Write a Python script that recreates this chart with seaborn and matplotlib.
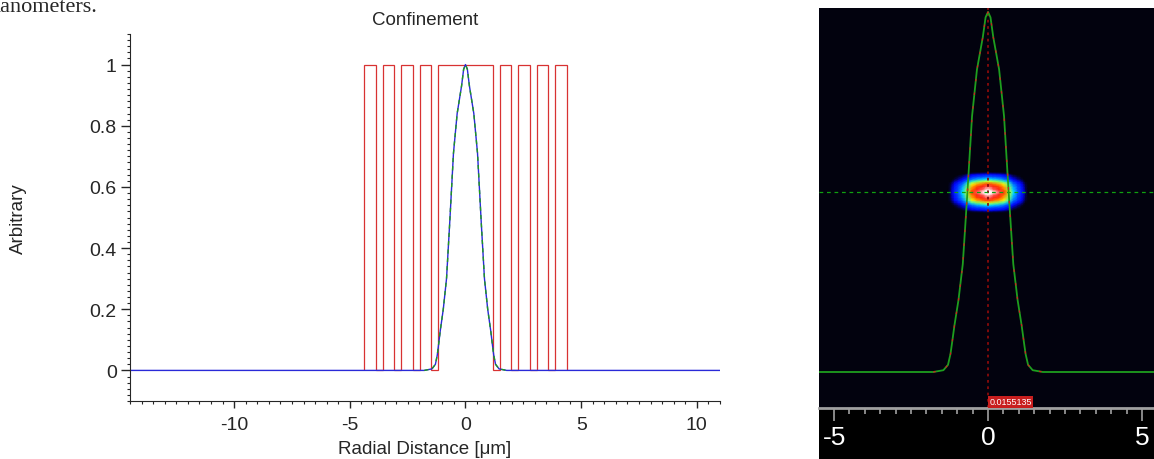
import numpy as np
import matplotlib
matplotlib.use("Agg")
import matplotlib.pyplot as plt
import matplotlib.transforms as mtransforms
from matplotlib.colors import LinearSegmentedColormap
from matplotlib.patches import Rectangle
from matplotlib.ticker import MultipleLocator
import seaborn as sns

# mode profile (right half, mirrored below)
mode_x_half = [0, 0.08, 0.17, 0.36, 0.52, 0.68, 0.82, 0.96, 1.09, 1.17, 1.22, 1.30, 1.45, 1.78, 16]
mode_v_half = [1.0, 0.985, 0.93, 0.84, 0.71, 0.485, 0.30, 0.20, 0.13, 0.08, 0.05, 0.02, 0.005, 0.0, 0.0]

# confinement (index) steps of the grating, in um
grating_edges = [-4.37, -3.87, -3.57, -3.07, -2.77, -2.27, -1.97, -1.47, -1.17,
                 1.17, 1.47, 1.97, 2.27, 2.77, 3.07, 3.57, 3.87, 4.37]
grating_levels = [1, 0, 1, 0, 1, 0, 1, 0, 1, 0, 1, 0, 1, 0, 1, 0, 1]

x_ticks_left = [-10, -5, 0, 5, 10]
y_ticks_left = [0, 0.2, 0.4, 0.6, 0.8, 1]
x_ticks_right = [-5, 0, 5]
probe_label = "0.0155135"

mode_x = np.concatenate([-np.array(mode_x_half[::-1]), mode_x_half[1:]])
mode_v = np.concatenate([mode_v_half[::-1], mode_v_half[1:]])

sns.set_style("ticks")
plt.rcParams['font.family'] = ['Liberation Sans', 'DejaVu Sans']
plt.rcParams['axes.unicode_minus'] = False

fig = plt.figure(figsize=(11.54, 4.6), dpi=100)
W, H = 1154, 460

# cut-off caption text above the figure
fig.text(-11 / W, (H - 12) / H, "nanometers.", family=['Liberation Serif', 'DejaVu Serif'],
         fontsize=16, va='baseline', ha='left')

# ---- left: confinement plot ----
ax = fig.add_axes([130 / W, (H - 402) / H, 590 / W, 367 / H])
red = '#d83232'
ax.stairs(grating_levels, grating_edges, color=red, lw=0.9, baseline=0)
sns.lineplot(x=mode_x, y=mode_v, ax=ax, color='#2a2ad8', lw=1.0, sort=False, estimator=None)
sns.lineplot(x=mode_x[1:-1], y=mode_v[1:-1], ax=ax, color='#1f9a1f', lw=1.0, sort=False,
             estimator=None, dashes=False, linestyle=(0, (3, 3)))
ax.set_xlim(-14.5, 11)
ax.set_ylim(-0.1, 1.1)
ax.set_xticks(x_ticks_left)
ax.set_yticks(y_ticks_left)
ax.set_yticklabels([f"{t:g}" for t in y_ticks_left])
ax.xaxis.set_minor_locator(MultipleLocator(0.5))
ax.yaxis.set_minor_locator(MultipleLocator(0.02))
ax.tick_params(axis='x', which='major', direction='out', length=5, width=1, labelsize=14, pad=6)
ax.tick_params(axis='x', which='minor', direction='out', length=2.5, width=0.8)
ax.tick_params(axis='y', which='major', direction='out', length=6.5, width=1, labelsize=14, pad=3)
ax.tick_params(axis='y', which='minor', direction='out', length=2, width=0.8)
sns.despine(ax=ax)
ax.set_xlabel("Radial Distance [\u03bcm]", fontsize=13.5, labelpad=5)
ax.set_ylabel("Arbitrary", fontsize=13.5, labelpad=45)
ax.set_title("Confinement", fontsize=13.5, pad=7)

# ---- right: mode viewer ----
fig.patches.append(Rectangle((819 / W, 0), 335 / W, (H - 9) / H, transform=fig.transFigure,
                             facecolor='black', edgecolor='none', zorder=-5))
bg = '#02020e'
axr = fig.add_axes([819 / W, (H - 409) / H, 335 / W, 400 / H])
axr.set_facecolor(bg)
axr.set_xlim(-5.49, 5.39)
axr.set_ylim(-0.1, 1.011)

# intensity spot built from the read mode profile
k = 0.044
core = np.abs(mode_x) < 2
sx = mode_x[core]
sv = mode_v[core]
gx, gy = np.meshgrid(sx, 0.5 + k * sx)
spot = np.outer(sv, sv)
spot_cmap = LinearSegmentedColormap.from_list("spot", [
    (0.0, bg), (0.025, bg), (0.09, '#0000ff'), (0.2, '#0060ff'), (0.3, '#00e8ff'),
    (0.42, '#80ff60'), (0.52, '#ffff00'), (0.63, '#ff9000'), (0.76, '#ff1000'),
    (0.88, '#ff7070'), (0.95, '#ffffff'), (1.0, '#ffffff')])
axr.pcolormesh(gx, gy, spot, shading='gouraud', cmap=spot_cmap, vmin=0, vmax=1, zorder=1)

axr.axvline(0, color='#8a0a0a', ls=(0, (1.5, 2)), lw=1.3, zorder=2)
axr.axhline(0.5, color='#10a010', ls=(0, (3, 3)), lw=0.9, zorder=2)
sns.lineplot(x=mode_x, y=mode_v, ax=axr, color='#1e9e1e', lw=1.3, sort=False, estimator=None, zorder=3)
sns.lineplot(x=mode_x[1:-1], y=mode_v[1:-1], ax=axr, color='#d02020', lw=0.9, sort=False,
             estimator=None, linestyle=(0, (2, 9)), zorder=4)

for s in ['top', 'right', 'left']:
    axr.spines[s].set_visible(False)
axr.spines['bottom'].set_color('#a0a0a0')
axr.spines['bottom'].set_linewidth(2)
axr.set_yticks([])
axr.set_xticks(x_ticks_right)
axr.set_xticklabels([str(t) for t in x_ticks_right])
axr.xaxis.set_minor_locator(MultipleLocator(0.5))
axr.tick_params(axis='x', which='major', direction='out', length=9, width=1.2,
                color='#a0a0a0', labelcolor='white', labelsize=19, pad=3)
axr.tick_params(axis='x', which='minor', direction='out', length=4.5, width=1.2, color='#a0a0a0')
axr.set_xlabel("")
axr.set_ylabel("")

trans = mtransforms.blended_transform_factory(axr.transData, axr.transAxes)
axr.text(0.05, 0.004, probe_label, transform=trans, ha='left', va='bottom', color='white',
         fontsize=6.5, zorder=5,
         bbox=dict(boxstyle='square,pad=0.15', facecolor='#c81e1e', edgecolor='none'))

fig.savefig("out.png", dpi=100)
